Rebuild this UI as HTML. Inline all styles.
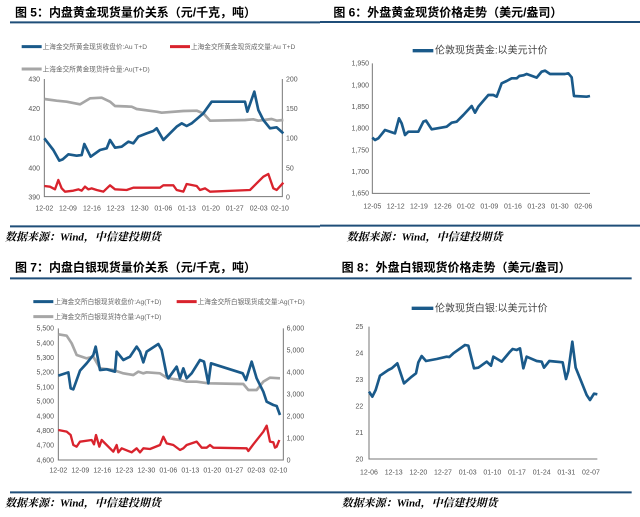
<!DOCTYPE html>
<html><head><meta charset="utf-8"><style>
html,body{margin:0;padding:0;background:#fff;width:640px;height:517px;overflow:hidden}
text{font-family:"Liberation Sans","Noto Sans CJK SC",sans-serif}
.t{font-size:36px;font-weight:bold;fill:#000}
.s{font-size:33px;font-weight:bold;font-style:italic;fill:#000;font-family:"Liberation Serif","Noto Serif CJK SC",serif}
.k{font-size:21px;fill:#555}
.lg{font-size:20px;fill:#666}
.b{fill:none;stroke:#1a5a8a;stroke-width:8;stroke-linejoin:round}
.r{fill:none;stroke:#d9232d;stroke-width:7;stroke-linejoin:round}
.g{fill:none;stroke:#a6a6a6;stroke-width:8;stroke-linejoin:round}
.ax{stroke:#777;stroke-width:3;fill:none}
.rule{stroke:#1f4e79;stroke-width:6}
</style></head><body>
<svg width="640" height="517" viewBox="0 0 640 517" xmlns="http://www.w3.org/2000/svg">
<!-- Chart 5 -->
<g transform="scale(0.33333)">
<text class="t" x="45" y="50">图 5：内盘黄金现货量价关系（元/千克，吨）</text>
<line class="rule" x1="30" y1="67" x2="960" y2="67"/>
<line x1="65" y1="140" x2="125" y2="140" stroke="#1a5a8a" stroke-width="9"/><text class="lg" x="128" y="147">上海金交所黄金现货收盘价:Au T+D</text>
<line x1="510" y1="140" x2="570" y2="140" stroke="#d9232d" stroke-width="9"/><text class="lg" x="573" y="147">上海金交所黄金现货成交量:Au T+D</text>
<line x1="65" y1="207" x2="125" y2="207" stroke="#a6a6a6" stroke-width="9"/><text class="lg" x="128" y="214">上海金交所黄金现货持仓量:Au(T+D)</text>
<path class="ax" d="M133 237V590H847V237"/>
<g class="k" text-anchor="end"><text x="120" y="244">430</text><text x="120" y="333">420</text><text x="120" y="422">410</text><text x="120" y="511">400</text><text x="120" y="598">390</text></g>
<g class="k"><text x="858" y="244">200</text><text x="858" y="333">150</text><text x="858" y="422">100</text><text x="858" y="511">50</text><text x="858" y="598">0</text></g>
<g class="k" text-anchor="middle"><text x="133" y="632">12-02</text><text x="204" y="632">12-09</text><text x="276" y="632">12-16</text><text x="347" y="632">12-23</text><text x="419" y="632">12-30</text><text x="490" y="632">01-06</text><text x="561" y="632">01-13</text><text x="633" y="632">01-20</text><text x="704" y="632">01-27</text><text x="776" y="632">02-03</text><text x="840" y="632">02-10</text></g>
<polyline class="g" points="133,297 170,302 200,305 240,313 270,295 305,293 330,305 345,318 395,320 410,327 470,335 485,338 550,333 590,332 610,340 630,362 735,360 760,358 775,362 815,357 830,362 850,360"/>
<polyline class="r" points="133,558 150,560 165,568 175,540 185,565 195,575 220,572 235,568 245,572 255,560 265,568 275,565 290,570 310,575 330,556 345,568 380,570 400,563 480,563 490,556 520,556 530,570 550,575 560,552 590,558 600,570 615,565 630,575 750,570 770,550 790,530 805,522 820,565 830,570 850,548"/>
<polyline class="b" points="133,415 160,450 178,482 188,478 205,463 230,467 245,465 253,432 272,470 300,450 320,445 330,420 345,443 365,440 385,425 400,430 415,410 440,400 460,393 470,385 490,420 510,400 530,380 545,370 560,378 575,370 610,340 635,305 735,305 742,335 763,275 775,330 790,360 810,385 830,382 850,400"/>
<line class="rule" x1="30" y1="679" x2="960" y2="679"/>
<text class="s" x="15" y="722">数据来源：Wind，中信建投期货</text>
</g>
<!-- Chart 6 -->
<g transform="translate(320,0) scale(0.33333)">
<text class="t" x="40" y="50">图 6：外盘黄金现货价格走势（美元/盎司）</text>
<line class="rule" x1="0" y1="66" x2="960" y2="66"/>
<line x1="278" y1="152" x2="340" y2="152" stroke="#1a5a8a" stroke-width="10"/><text x="345" y="161" font-size="30" fill="#444">伦敦现货黄金:以美元计价</text>
<path class="ax" d="M157 190V580H810"/>
<g class="k" text-anchor="end"><text x="147" y="197">1,950</text><text x="147" y="262">1,900</text><text x="147" y="327">1,850</text><text x="147" y="392">1,800</text><text x="147" y="457">1,750</text><text x="147" y="522">1,700</text><text x="147" y="587">1,650</text></g>
<g class="k" text-anchor="middle"><text x="157" y="625">12-05</text><text x="227" y="625">12-12</text><text x="297" y="625">12-19</text><text x="368" y="625">12-26</text><text x="438" y="625">01-02</text><text x="508" y="625">01-09</text><text x="579" y="625">01-16</text><text x="649" y="625">01-23</text><text x="719" y="625">01-30</text><text x="790" y="625">02-06</text></g>
<polyline class="b" points="157,413 165,420 175,415 195,390 225,400 237,355 245,370 255,405 265,395 295,395 310,365 318,362 335,388 380,380 395,368 410,365 430,345 455,318 465,338 475,320 505,285 520,285 530,290 545,250 560,243 575,235 590,235 598,228 610,226 620,222 650,233 665,215 675,212 690,222 735,222 745,220 755,232 762,288 800,290 810,288"/>
<line class="rule" x1="0" y1="677" x2="960" y2="677"/>
<text class="s" x="80" y="722">数据来源：Wind，中信建投期货</text>
</g>
<!-- Chart 7 -->
<g transform="translate(0,255) scale(0.33333)">
<text class="t" x="45" y="50">图 7：内盘白银现货量价关系（元/千克，吨）</text>
<line class="rule" x1="30" y1="70" x2="960" y2="70"/>
<line x1="100" y1="140" x2="160" y2="140" stroke="#1a5a8a" stroke-width="9"/><text class="lg" x="163" y="147">上海金交所白银现货收盘价:Ag(T+D)</text>
<line x1="530" y1="140" x2="590" y2="140" stroke="#d9232d" stroke-width="9"/><text class="lg" x="593" y="147">上海金交所白银现货成交量:Ag(T+D)</text>
<line x1="100" y1="185" x2="160" y2="185" stroke="#a6a6a6" stroke-width="9"/><text class="lg" x="163" y="192">上海金交所白银现货持仓量:Ag(T+D)</text>
<path class="ax" d="M175 220V615H850V220"/>
<g class="k" text-anchor="end"><text x="162" y="227">5,500</text><text x="162" y="271">5,400</text><text x="162" y="315">5,300</text><text x="162" y="359">5,200</text><text x="162" y="403">5,100</text><text x="162" y="446">5,000</text><text x="162" y="490">4,900</text><text x="162" y="534">4,800</text><text x="162" y="578">4,700</text><text x="162" y="622">4,600</text></g>
<g class="k"><text x="860" y="227">6,000</text><text x="860" y="293">5,000</text><text x="860" y="359">4,000</text><text x="860" y="424">3,000</text><text x="860" y="490">2,000</text><text x="860" y="556">1,000</text><text x="860" y="622">0</text></g>
<g class="k" text-anchor="middle"><text x="175" y="652">12-02</text><text x="241" y="652">12-09</text><text x="307" y="652">12-16</text><text x="373" y="652">12-23</text><text x="439" y="652">12-30</text><text x="505" y="652">01-06</text><text x="571" y="652">01-13</text><text x="637" y="652">01-20</text><text x="703" y="652">01-27</text><text x="769" y="652">02-03</text><text x="835" y="652">02-10</text></g>
<polyline class="g" points="175,238 200,242 215,265 230,300 260,310 280,305 300,340 340,345 370,355 400,360 415,350 430,355 440,352 480,355 500,368 520,372 540,375 560,380 590,380 625,385 730,387 745,405 770,405 790,380 810,368 840,370"/>
<polyline class="r" points="175,525 200,530 212,540 220,570 230,575 240,560 275,555 282,568 288,540 298,575 305,555 340,590 350,570 355,592 365,580 395,592 410,580 420,592 430,580 450,582 480,570 490,545 500,565 520,570 540,585 550,580 560,570 590,560 605,578 620,578 630,570 640,578 740,580 745,588 760,568 790,530 800,512 810,560 820,562 825,578 830,575 838,555"/>
<polyline class="b" points="175,362 205,352 212,400 220,403 240,347 260,325 280,300 287,275 300,345 320,343 345,350 350,290 370,315 390,305 410,275 420,290 430,322 440,290 475,267 485,285 500,360 505,370 530,335 540,370 550,340 560,370 575,355 600,315 612,320 625,385 633,325 728,355 738,375 755,320 770,370 790,410 800,440 820,450 830,453 840,480"/>
<line class="rule" x1="30" y1="712" x2="960" y2="712"/>
<text class="s" x="15" y="755">数据来源：Wind，中信建投期货</text>
</g>
<!-- Chart 8 -->
<g transform="translate(320,255) scale(0.33333)">
<text class="t" x="65" y="50">图 8：外盘白银现货价格走势（美元/盎司）</text>
<line class="rule" x1="0" y1="70" x2="935" y2="70"/>
<line x1="275" y1="160" x2="340" y2="160" stroke="#1a5a8a" stroke-width="10"/><text x="345" y="170" font-size="30" fill="#444">伦敦现货白银:以美元计价</text>
<path class="ax" d="M147 215V612H832"/>
<g class="k" text-anchor="end"><text x="130" y="222">25</text><text x="130" y="301">24</text><text x="130" y="381">23</text><text x="130" y="460">22</text><text x="130" y="540">21</text><text x="130" y="619">20</text></g>
<g class="k" text-anchor="middle"><text x="147" y="659">12-06</text><text x="221" y="659">12-13</text><text x="295" y="659">12-20</text><text x="369" y="659">12-27</text><text x="443" y="659">01-03</text><text x="517" y="659">01-10</text><text x="591" y="659">01-17</text><text x="665" y="659">01-24</text><text x="739" y="659">01-31</text><text x="813" y="659">02-07</text></g>
<polyline class="b" points="147,410 157,425 167,405 180,362 205,345 215,340 232,325 252,385 275,365 288,355 295,322 305,303 318,318 350,312 380,305 388,306 400,295 435,270 445,272 462,340 475,338 500,320 513,332 520,305 545,320 570,290 578,282 590,285 600,280 610,340 620,305 650,318 665,320 672,338 688,318 728,322 738,372 745,348 757,260 767,338 780,370 800,420 810,435 822,416 832,418"/>
<line class="rule" x1="0" y1="712" x2="935" y2="712"/>
<text class="s" x="65" y="755">数据来源：Wind，中信建投期货</text>
</g>
</svg>
</body></html>
